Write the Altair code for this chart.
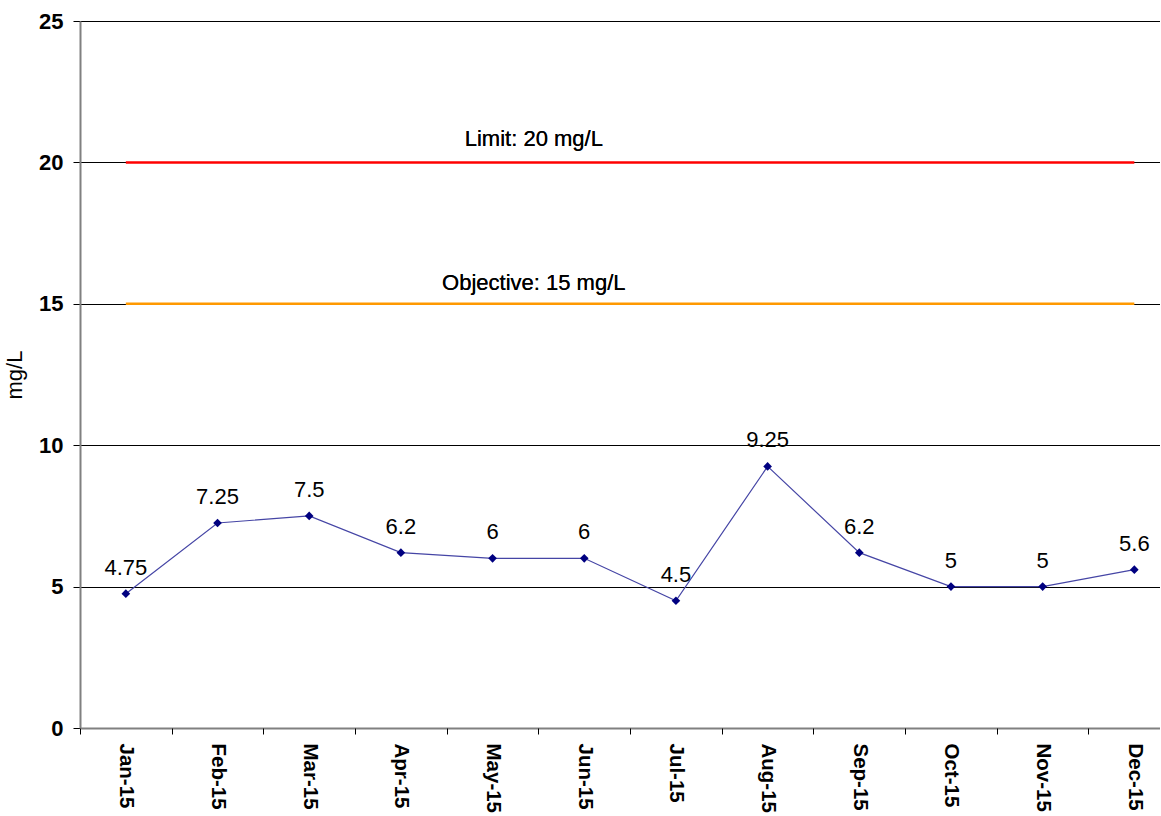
import json
import altair as alt
import pandas as pd

months = ["Jan-15", "Feb-15", "Mar-15", "Apr-15", "May-15", "Jun-15",
          "Jul-15", "Aug-15", "Sep-15", "Oct-15", "Nov-15", "Dec-15"]
values = [4.75, 7.25, 7.5, 6.2, 6, 6, 4.5, 9.25, 6.2, 5, 5, 5.6]
y_ticks = [0, 5, 10, 15, 20, 25]
limit_value = 20
objective_value = 15
limit_label = "Limit: 20 mg/L"
objective_label = "Objective: 15 mg/L"
y_title = "mg/L"

df = pd.DataFrame({
    "idx": list(range(len(months))),
    "month": months,
    "value": values,
    "label": [f"{v:g}" for v in values],
})
thr = pd.DataFrame({
    "name": ["limit", "objective"],
    "value": [limit_value, objective_value],
    "x0": [0, 0],
    "x1": [len(months) - 1, len(months) - 1],
})

FONT = "Liberation Sans"
x_scale = alt.Scale(domain=[-0.5, 11.28], nice=False, zero=False)
y_scale = alt.Scale(domain=[0, 25], nice=False, zero=True)

label_expr = json.dumps(months) + "[datum.value]"

x_label_axis = alt.Axis(
    values=list(range(len(months))), labelExpr=label_expr, ticks=False,
    grid=False, title=None, labelAngle=90, labelFontSize=20.5,
    labelFontWeight="bold", labelFont=FONT, labelColor="#000000",
    labelPadding=15, domainColor="#808080", domainWidth=2, orient="bottom",
    labelAlign="left", labelBaseline="middle", labelOverlap=False,
)
x_tick_axis = alt.Axis(
    values=[i - 0.5 for i in range(len(months))], labels=False, ticks=True,
    tickSize=6, tickColor="#000000", tickWidth=1, grid=False, domain=False,
    title=None, orient="bottom",
)
y_axis = alt.Axis(
    values=y_ticks, title=y_title, titleFont=FONT, titleFontSize=22,
    titleFontWeight="normal", titleColor="#000000", titlePadding=12,
    labelFont=FONT, labelFontSize=22, labelFontWeight="bold",
    labelColor="#000000", labelPadding=10, tickSize=7, tickColor="#000000",
    domainColor="#808080", domainWidth=2, grid=True, gridColor="#000000",
    gridWidth=1,
)

base = alt.Chart(df)
line = base.mark_line(color="#4545a5", strokeWidth=1.2).encode(
    x=alt.X("idx:Q", scale=x_scale, axis=x_label_axis),
    y=alt.Y("value:Q", scale=y_scale, axis=y_axis),
)
points = base.mark_point(shape="diamond", filled=True, size=75,
                         color="#000080", opacity=1).encode(
    x=alt.X("idx:Q", scale=x_scale, axis=None),
    y=alt.Y("value:Q", scale=y_scale),
)
texts = base.mark_text(font=FONT, fontSize=22, color="#000000",
                       align="center", baseline="alphabetic", dy=-19).encode(
    x=alt.X("idx:Q", scale=x_scale, axis=None),
    y=alt.Y("value:Q", scale=y_scale),
    text="label:N",
)
rules = alt.Chart(thr).mark_rule(strokeWidth=2.5).encode(
    x=alt.X("x0:Q", scale=x_scale, axis=x_tick_axis),
    x2="x1:Q",
    y=alt.Y("value:Q", scale=y_scale),
    color=alt.Color("name:N", scale=alt.Scale(domain=["limit", "objective"],
                                              range=["#ff0000", "#ff9900"]),
                    legend=None),
)
limit_text = alt.Chart(thr).mark_text(
    font=FONT, fontSize=22, color="#000000", align="center",
    baseline="alphabetic", dy=-16, text=limit_label,
).encode(x=alt.XDatum(4.45, axis=None), y=alt.YDatum(limit_value))
obj_text = alt.Chart(thr).mark_text(
    font=FONT, fontSize=22, color="#000000", align="center",
    baseline="alphabetic", dy=-14, text=objective_label,
).encode(x=alt.XDatum(4.45, axis=None), y=alt.YDatum(objective_value))

chart = alt.layer(line, rules, points, texts, limit_text, obj_text).resolve_scale(
    x="shared", y="shared"
).resolve_axis(x="independent").properties(
    width=1080, height=707,
    padding={"left": 3, "top": 10, "right": 0, "bottom": 0},
    background="#ffffff",
).configure_view(stroke=None)

chart.save("out.html", embed_options={"renderer": "svg", "actions": False})
